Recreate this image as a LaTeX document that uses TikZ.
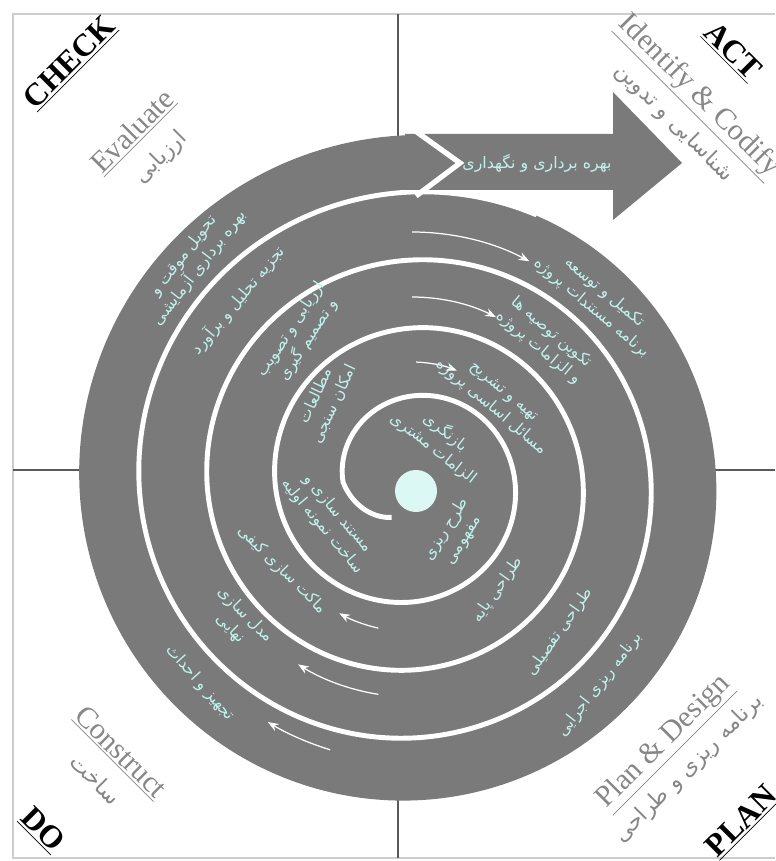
\documentclass[tikz,border=0pt]{standalone}
\usepackage{fontspec}
\setmainfont{Liberation Serif}
\newfontfamily\farsi[Script=Arabic]{DejaVu Sans}
\TeXXeTstate=1
\usetikzlibrary{arrows.meta}

\definecolor{spiralgrey}{RGB}{122,122,122}
\definecolor{labelgrey}{RGB}{135,135,135}
\definecolor{bandtext}{RGB}{192,242,236}
\definecolor{framegrey}{RGB}{205,205,205}
\newcommand{\fa}[1]{\beginR #1\endR}

\begin{document}
\begin{tikzpicture}[
        x=0.02cm, y=-0.02cm,
        >=Stealth, % arrow head style
        ]

        \tikzstyle{corner}=[font=\fontsize{18}{20}\selectfont\bfseries]
        \tikzstyle{phase}=[font=\fontsize{17}{19}\selectfont, text=labelgrey]
        \tikzstyle{phasefa}=[font=\farsi\fontsize{12.5}{14}\selectfont, text=labelgrey]
        \tikzstyle{band}=[font=\farsi\fontsize{9}{11.5}\selectfont, text=bandtext, align=center]
        \tikzstyle{flow}=[->, white, line width=0.7pt]

        \useasboundingbox (0,0) rectangle (775,861);

        % frame and quadrant lines
        \draw[framegrey, line width=1.5pt] (775,14) -- (13,14) -- (13,858) -- (775,858);
        \draw[black!65, line width=0.8pt] (398,14) -- (398,858);
        \draw[black!65, line width=0.8pt] (13,470) -- (775,470);

        % disk, spiral and arrow
        \fill[spiralgrey] plot[domain=0:360, samples=120, smooth]
            ({412+(290+0.1583*\x)*sin(\x)}, {482-(290+0.1583*\x)*cos(\x)}) -- cycle;
        \draw[white, line width=2.8pt] plot[domain=-60:1195, samples=400, smooth]
            ({412-(69+0.1889*\x+0.28*min(\x,0))*cos(\x)}, {482-(69+0.1889*\x+0.28*min(\x,0))*sin(\x)});
        \fill[spiralgrey] (405,134) -- (613,134) -- (613,92) -- (682,163)
            -- (613,220) -- (613,190) -- (405,190) -- cycle;
        \draw[white, line width=3pt] (414,130) -- (460,163) -- (416,196);
        \fill[bandtext!55!white] (416,491) circle[radius=21];

        % flow arrows
        \begin{scope}[shift={(412,482)}]
            \draw[flow] (270:250) arc[start angle=270, end angle=298, radius=250];
            \draw[flow] (270:185) arc[start angle=270, end angle=297, radius=185];
            \draw[flow] (272:120) arc[start angle=272, end angle=292, radius=120];
            \draw[flow] (103:150) arc[start angle=103, end angle=119, radius=150];
            \draw[flow] (99:215) arc[start angle=99, end angle=122, radius=215];
            \draw[flow] (107:280) arc[start angle=107, end angle=121, radius=280];
        \end{scope}

        % corner labels
        \node[corner, rotate=45] (check) at (70,63) {\underline{CHECK}};
        \node[corner, rotate=-45] (act) at (732,52) {\underline{ACT}};
        \node[corner, rotate=-45] (do) at (42,830) {\underline{DO}};
        \node[corner, rotate=45] (plan) at (742,822) {\underline{PLAN}};

        % phase labels
        \node[phase, rotate=45] (evaluate) at (133,132) {\underline{Evaluate}};
        \node[phasefa, rotate=45] (evaluatefa) at (161,158) {\fa{ارزیابی}};
        \node[phase, rotate=-45] (identify) at (698,97) {\underline{Identify \& Codify}};
        \node[phasefa, rotate=-45] (identifyfa) at (674,123) {\fa{شناسایی و تدوین}};
        \node[phase, rotate=-45] (construct) at (120,753) {\underline{Construct}};
        \node[phasefa, rotate=-45] (constructfa) at (96,779) {\fa{ساخت}};
        \node[phase, rotate=45] (design) at (665,743) {\underline{Plan \& Design}};
        \node[phasefa, rotate=45] (designfa) at (689,769) {\fa{برنامه ریزی و طراحی}};

        % texts on the spiral
        \node[band] (operate) at (537,163) {\fa{بهره برداری و نگهداری}};
        \node[band, rotate=52] (handover) at (192,262) {\fa{تحویل موقت و}\\\fa{بهره برداری آزمایشی}};
        \node[band, rotate=50] (analysis) at (238,300) {\fa{تجزیه تحلیل و برآورد}};
        \node[band, rotate=57] (assess) at (300,335) {\fa{ارزیابی و تصویب}\\\fa{و تصمیم گیری}};
        \node[band, rotate=65] (feasible) at (325,400) {\fa{مطالعات}\\\fa{امکان سنجی}};
        \node[band, rotate=-38] (review) at (440,440) {\fa{بازنگری}\\\fa{الزامات مشتری}};
        \node[band, rotate=-40] (issues) at (497,400) {\fa{تهیه و تشریح}\\\fa{مسائل اساسی پروژه}};
        \node[band, rotate=-40] (advice) at (545,340) {\fa{تکوین توصیه ها}\\\fa{و الزامات پروژه}};
        \node[band, rotate=-40] (complete) at (598,300) {\fa{تکمیل و توسعه}\\\fa{برنامه مستندات پروژه}};
        \node[band, rotate=58] (concept) at (455,535) {\fa{طرح ریزی}\\\fa{مفهومی}};
        \node[band, rotate=55] (basic) at (498,590) {\fa{طراحی پایه}};
        \node[band, rotate=55] (detail) at (560,632) {\fa{طراحی تفصیلی}};
        \node[band, rotate=52] (schedule) at (600,685) {\fa{برنامه ریزی اجرایی}};
        \node[band, rotate=-50] (prototype) at (330,520) {\fa{مستند سازی و}\\\fa{ساخت نمونه اولیه}};
        \node[band, rotate=-45] (mockup) at (282,570) {\fa{ماکت سازی کیفی}};
        \node[band, rotate=-45] (model) at (238,622) {\fa{مدل سازی}\\\fa{نهایی}};
        \node[band, rotate=-48] (build) at (200,683) {\fa{تجهیز و احداث}};
\end{tikzpicture}
\end{document}
